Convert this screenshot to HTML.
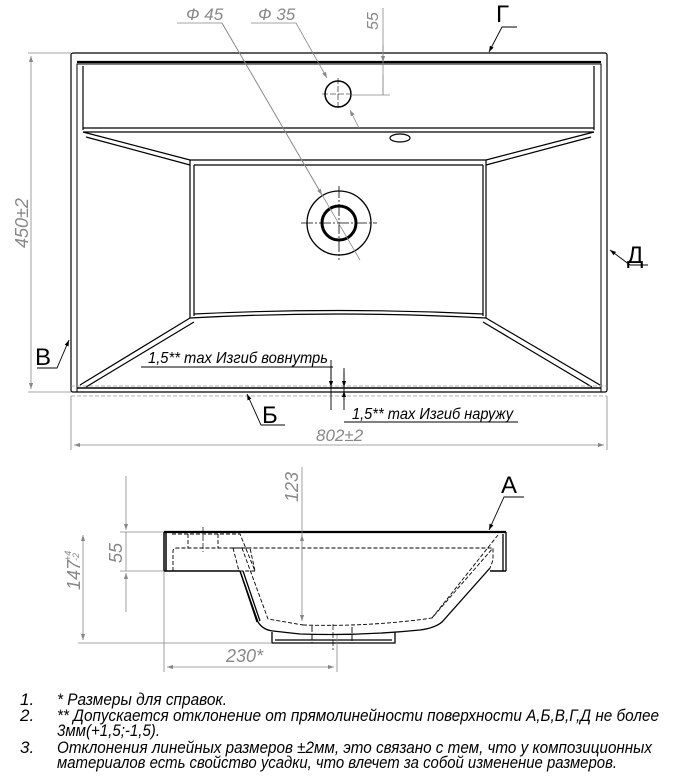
<!DOCTYPE html>
<html><head><meta charset="utf-8"><style>
html,body{margin:0;padding:0;background:#fff;}
svg{display:block;}
text{font-family:"Liberation Sans Narrow","Liberation Sans",sans-serif;font-style:italic;}
</style></head><body>
<svg width="673" height="777" viewBox="0 0 673 777" xmlns="http://www.w3.org/2000/svg">
<defs>
<marker id="ag" viewBox="0 0 10 10" refX="10" refY="5" markerWidth="9" markerHeight="6" orient="auto-start-reverse" markerUnits="userSpaceOnUse"><path d="M0,1.5 L10,5 L0,8.5z" fill="#888"/></marker>
<marker id="ak" viewBox="0 0 10 10" refX="10" refY="5" markerWidth="9" markerHeight="6" orient="auto-start-reverse" markerUnits="userSpaceOnUse"><path d="M0,1.5 L10,5 L0,8.5z" fill="#000"/></marker>
</defs>

<!-- TOP VIEW -->
<g fill="none" stroke="#000" stroke-width="1.2">
<rect x="71" y="53" width="536" height="339" rx="2"/>
<path d="M77,392 V64 H601 V392" stroke-width="1"/>
<path d="M77,62 H601" stroke-width="2.2"/>
<path d="M83,66 V130 M594,66 V130" />
<path d="M83,128 H594 M83,132 H594" />
<path d="M83,132 L190,160 M86,137 L190,165 M594,132 L486,160 M591,137 L486,165"/>
<path d="M190,160 H486 M194,165 H483 M190,160 V318 M194,165 V316 M486,160 V318 M483,165 V316"/>
<path d="M190,318 Q338,310 486,318 M194,314 Q338,307 483,314"/>
<path d="M190,318 L80,385 M194,322 L86,387 M486,318 L600,385 M483,322 L592,387"/>
<path d="M77,388 H601" stroke-width="1.5"/>
</g>
<path d="M71,386 H607 M71,396 H607" stroke="#999" stroke-width="0.8" stroke-dasharray="4,2" fill="none"/>
<circle cx="338" cy="94" r="13" fill="none" stroke="#000" stroke-width="1.5"/>
<path d="M338,78 V110 M322,94 H350" stroke="#000" stroke-width="0.6" stroke-dasharray="6,2"/>
<ellipse cx="400" cy="138" rx="10" ry="4" fill="none" stroke="#000" stroke-width="1.2"/>
<circle cx="339" cy="223" r="32" fill="none" stroke="#000" stroke-width="1.3"/>
<circle cx="339" cy="223" r="17" fill="none" stroke="#000" stroke-width="3"/>
<path d="M339,186 V260 M301,223 H377" stroke="#000" stroke-width="0.8" stroke-dasharray="12,2,2,2"/>

<g stroke="#888" stroke-width="0.8" fill="none">
<path d="M177,23 H222 L360,260"/>
<path d="M222,23 L322,195" marker-end="url(#ag)"/>
<path d="M251,23 H296 L327,78" marker-end="url(#ag)"/>
<path d="M359,128 L350,110" marker-end="url(#ag)"/>
<path d="M383,8 V95 M351,95 H390"/>
<path d="M383,45 V62" marker-end="url(#ag)"/>
<path d="M383,75 V95" />
<path d="M28,53 H71 M28,392 H71"/>
<path d="M31,56 V389" marker-start="url(#ag)" marker-end="url(#ag)"/>
<path d="M71,396 V450 M607,396 V450"/>
<path d="M74,445 H604" marker-start="url(#ag)" marker-end="url(#ag)"/>
</g>
<text x="186" y="20" font-size="17" fill="#888">Ф 45</text>
<text x="258" y="20" font-size="17" fill="#888">Ф 35</text>
<text transform="translate(378,30) rotate(-90)" font-size="16" fill="#888">55</text>
<text transform="translate(28,248) rotate(-90)" font-size="18" fill="#888">450±2</text>
<text x="316" y="441" font-size="17" fill="#888">802±2</text>

<g stroke="#000" stroke-width="0.9" fill="none">
<path d="M517,27 H502 L489,52" marker-end="url(#ak)"/>
<path d="M648,265 H630 L610,250" marker-end="url(#ak)"/>
<path d="M37,368 H57 L69,340" marker-end="url(#ak)"/>
<path d="M285,425 H261 L247,394" marker-end="url(#ak)"/>
<path d="M141,367 H333 M331,367 V410 M344,368 V410 M344,422 H518"/>
<path d="M331,360 V387" marker-end="url(#ak)"/>
<path d="M344,400 V391" marker-end="url(#ak)"/>
<path d="M344,372 V387" marker-end="url(#ak)"/>
</g>
<text x="496" y="22" font-size="24" style="font-style:normal">Г</text>
<text x="627" y="263" font-size="24" style="font-style:normal">Д</text>
<text x="35" y="365" font-size="24" style="font-style:normal">В</text>
<text x="262" y="423" font-size="24" style="font-style:normal">Б</text>
<text x="148" y="363" font-size="16" textLength="180" lengthAdjust="spacingAndGlyphs">1,5** max Изгиб вовнутрь</text>
<text x="352" y="419" font-size="16" textLength="161" lengthAdjust="spacingAndGlyphs">1,5** max Изгиб наружу</text>

<!-- SIDE VIEW -->
<g fill="none" stroke="#000" stroke-width="1.3">
<path d="M164,532 H506" stroke-width="2.2"/>
<path d="M164,532 V571 M166,532 V571" stroke-width="1.5"/>
<path d="M506,532 V571 M503,534 V571"/>
<path d="M164,571 H240 M490,571 H506" stroke-width="1.5"/>
<path d="M240,571 L258,622 Q263,630 273,631 L300,634 Q360,636 420,630 Q435,628 442,622 L490,568"/>
<path d="M240,571 L257,622 M243,571 L260,621"/>
<path d="M272,632 V643 H395 V632 M275,640 H392"/>
</g>
<g fill="none" stroke="#000" stroke-width="0.9" stroke-dasharray="4,2">
<path d="M172,534 H240 L255,571"/>
<path d="M173,571 V551 Q173,548 177,548 H493 V560 L490,568"/>
<path d="M233,548 L250,548 L255,571 M233,548 L239,571 H255"/>
<path d="M242,548 L268,619 L303,625"/>
<path d="M303,625 Q370,627 432,618 L493,548"/>
<path d="M498,535 L432,618"/>
<path d="M188,534 V548 M218,534 V548"/>
<path d="M312,626 V643 M352,627 V643" stroke-dasharray="6,2"/>
</g>
<path d="M203,527 V552 M333,624 V650" stroke="#000" stroke-width="0.7" stroke-dasharray="6,2"/>
<g stroke="#888" stroke-width="0.8" fill="none">
<path d="M120,532 H164 M120,571 H164 M78,643 H272"/>
<path d="M126,476 V530" marker-end="url(#ag)"/>
<path d="M126,612 V573" marker-end="url(#ag)"/>
<path d="M126,532 V571"/>
<path d="M83,535 V640" marker-start="url(#ag)" marker-end="url(#ag)"/>
<path d="M302,467 V621" marker-end="url(#ag)"/>
<path d="M302,560 V535" marker-end="url(#ag)"/>
<path d="M164,571 V672 M337,635 V672"/>
<path d="M167,667 H334" marker-start="url(#ag)" marker-end="url(#ag)"/>
</g>
<text transform="translate(298,502) rotate(-90)" font-size="18" fill="#888">123</text>
<text transform="translate(122,563) rotate(-90)" font-size="18" fill="#888">55</text>
<text transform="translate(80,590) rotate(-90)" font-size="18" fill="#888">147</text>
<text transform="translate(71,561) rotate(-90)" font-size="9" fill="#888">+4</text>
<text transform="translate(79,561) rotate(-90)" font-size="9" fill="#888">-2</text>
<text x="226" y="662" font-size="18" fill="#888">230*</text>
<path d="M524,497 H504 L489,530" fill="none" stroke="#000" stroke-width="0.9" marker-end="url(#ak)"/>
<text x="501" y="493" font-size="24" style="font-style:normal">А</text>

<g font-size="17">
<text x="20" y="705">1.</text>
<text x="57" y="705" textLength="170" lengthAdjust="spacingAndGlyphs">*  Размеры для справок.</text>
<text x="20" y="721">2.</text>
<text x="57" y="721" textLength="602" lengthAdjust="spacingAndGlyphs">**  Допускается отклонение от прямолинейности поверхности А,Б,В,Г,Д не более</text>
<text x="57" y="736" textLength="103" lengthAdjust="spacingAndGlyphs">3мм(+1,5;-1,5).</text>
<text x="20" y="753">3.</text>
<text x="57" y="753" textLength="595" lengthAdjust="spacingAndGlyphs">Отклонения линейных размеров ±2мм, это связано с тем, что у композиционных</text>
<text x="57" y="768" textLength="560" lengthAdjust="spacingAndGlyphs">материалов есть свойство усадки, что влечет за собой изменение размеров.</text>
</g>
</svg>
</body></html>
